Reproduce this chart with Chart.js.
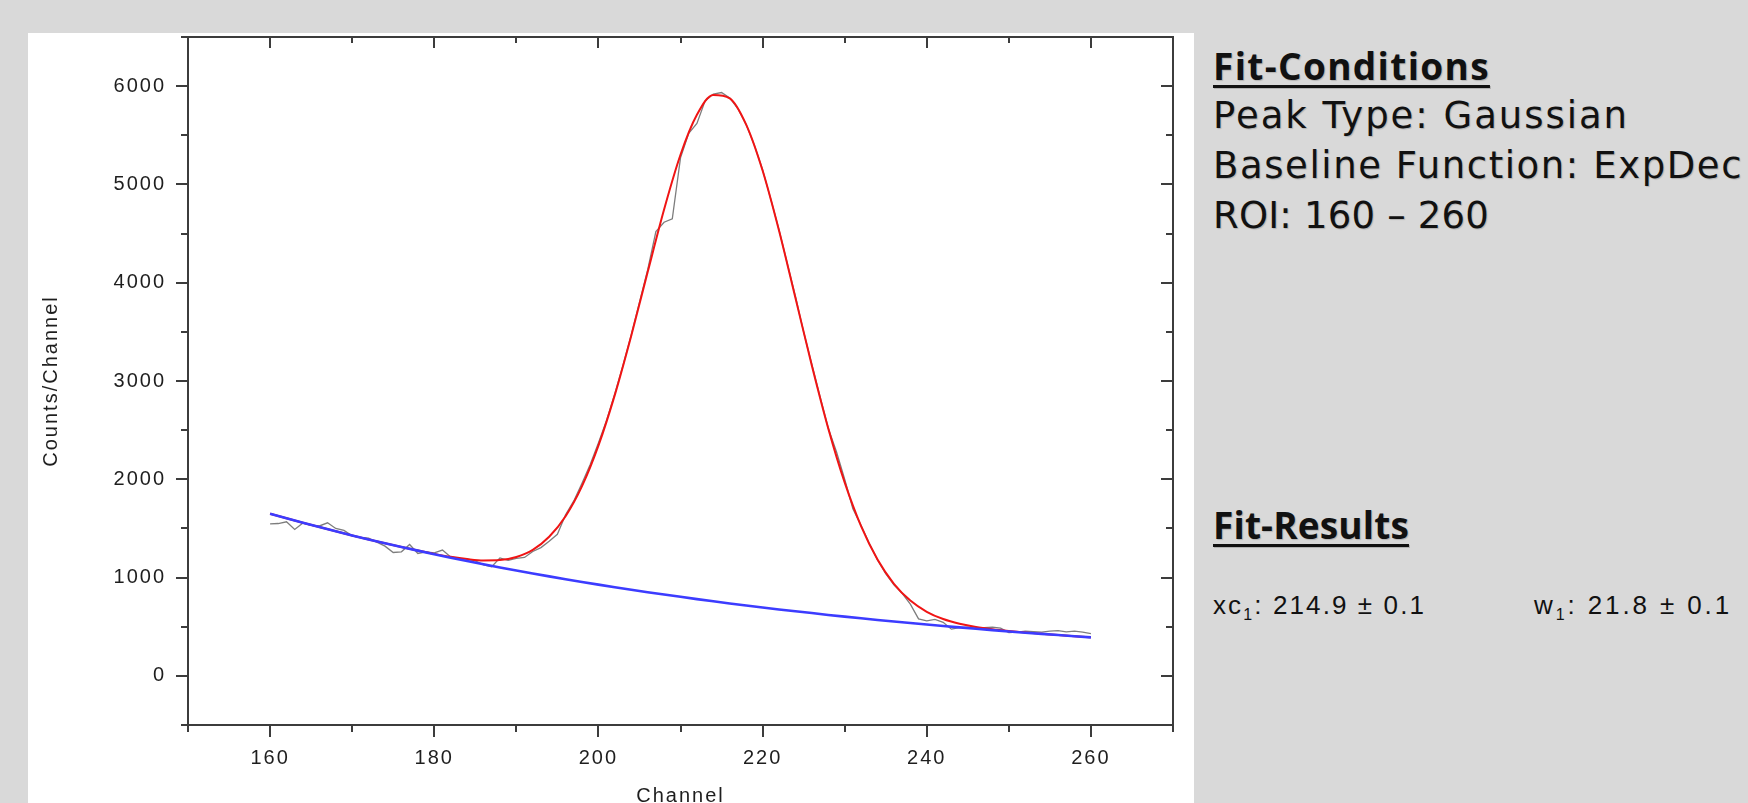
<!DOCTYPE html>
<html>
<head>
<meta charset="utf-8">
<script src="https://cdn.jsdelivr.net/npm/chart.js@4.4.1/dist/chart.umd.min.js"></script>
<style>
  html, body { margin: 0; width: 1748px; height: 803px; overflow: hidden; background: #d9d9d9; }
  #panel { position: absolute; left: 28px; top: 33px; width: 1166px; height: 800px; background: #fff; }
  .notes { position: absolute; left: 1213px; color: #111; white-space: nowrap;
           text-shadow: 1px 1px 1px rgba(0,0,0,0.18); }
  .notes span { display: inline-block; }
  .notes div { font-family: "DejaVu Sans", sans-serif; font-size: 37px; line-height: 50px; }
  .notes .head { font-family: "Open Sans", sans-serif; font-weight: bold; font-size: 37px; }
  .notes .head span { text-decoration: underline; text-decoration-thickness: 3px; text-underline-offset: 5px; }
  .res { position: absolute; top: 590px; font-family: "Liberation Sans", Arial, sans-serif;
         font-size: 26px; line-height: 30px; color: #111; white-space: nowrap; }
  .res sub { font-size: 16px; vertical-align: -6px; line-height: 0; }
</style>
</head>
<body>
<div id="panel"><canvas id="fitChart" width="1166" height="800"></canvas></div>

<div class="notes" style="top:41px">
  <div class="head"><span data-w="277">Fit-Conditions</span></div>
  <div><span data-w="416">Peak Type: Gaussian</span></div>
  <div><span data-w="530">Baseline Function: ExpDec</span></div>
  <div><span data-w="276">ROI: 160 – 260</span></div>
</div>
<div class="notes" style="top:500px">
  <div class="head"><span data-w="196">Fit-Results</span></div>
</div>
<div class="res" style="left:1213px"><span data-w="213">xc<sub>1</sub>: 214.9 ± 0.1</span></div>
<div class="res" style="left:1534px"><span data-w="198">w<sub>1</sub>: 21.8 ± 0.1</span></div>

<script>
// measured spectrum, one value per channel
const channels = [160,161,162,163,164,165,166,167,168,169,170,171,172,173,174,175,176,177,178,179,
  180,181,182,183,184,185,186,187,188,189,190,191,192,193,194,195,196,197,198,199,
  200,201,202,203,204,205,206,207,208,209,210,211,212,213,214,215,216,217,218,219,
  220,221,222,223,224,225,226,227,228,229,230,231,232,233,234,235,236,237,238,239,
  240,241,242,243,244,245,246,247,248,249,250,251,252,253,254,255,256,257,258,259,260];
const counts = [1547,1550,1568,1490,1555,1530,1525,1557,1500,1480,1425,1410,1400,1360,1320,1255,1262,1337,1245,1262,
  1252,1280,1210,1195,1190,1170,1130,1110,1200,1175,1195,1205,1265,1305,1370,1440,1640,1780,1960,2150,
  2370,2600,2870,3160,3470,3800,4130,4520,4615,4650,5270,5520,5620,5850,5920,5935,5880,5770,5610,5400,
  5150,4850,4540,4200,3860,3500,3170,2840,2520,2280,2000,1700,1530,1350,1180,1040,925,840,730,580,
  560,575,545,475,490,495,485,490,495,485,440,445,455,450,445,455,460,448,455,445,430];

// fitted curves, every second channel
const fitChannels = [160,162,164,166,168,170,172,174,176,178,180,182,184,186,188,190,192,194,196,198,
  200,202,204,206,208,210,212,214,216,218,220,222,224,226,228,230,232,234,236,238,
  240,242,244,246,248,250,252,254,256,258,260];
const fitCounts = [1650,1603,1558,1514,1471,1429,1388,1349,1311,1275,1241,1211,1188,1174,1178,1210,1282,1415,1624,1930,
  2342,2859,3461,4108,4745,5302,5708,5910,5876,5608,5141,4531,3846,3158,2518,1968,1523,1183,937,766,
  652,578,530,497,474,456,441,428,415,403,392];
const baseCounts = [1650,1603,1558,1514,1471,1429,1388,1349,1311,1274,1237,1202,1168,1135,1103,1072,1041,1012,983,955,
  928,902,876,851,827,804,781,759,737,716,696,676,657,639,620,603,586,569,553,537,
  522,507,493,479,465,452,439,427,415,403,392];

const xMajor = [160, 180, 200, 220, 240, 260];
const xMinor = [150, 170, 190, 210, 230, 250, 270];
const yMajor = [0, 1000, 2000, 3000, 4000, 5000, 6000];
const yMinor = [-500, 500, 1500, 2500, 3500, 4500, 5500, 6500];

// stretch the side notes to the widths they have in the slide
document.querySelectorAll('[data-w]').forEach(el => {
    const n = el.textContent.length;
    const extra = (Number(el.dataset.w) - el.getBoundingClientRect().width) / n;
    el.style.letterSpacing = extra.toFixed(2) + 'px';
});

const toPoints = (xs, ys) => xs.map((x, i) => ({ x: x, y: ys[i] }));

// frame with Origin-style ticks: out on left/bottom, in on top/right
const frameTicks = {
    id: 'frameTicks',
    beforeDraw(chart) {
        chart.ctx.letterSpacing = '2px';
    },
    afterDatasetsDraw(chart) {
        const { ctx, chartArea: a, scales: { x, y } } = chart;
        ctx.save();
        ctx.strokeStyle = '#3c3c3c';
        ctx.lineWidth = 2;
        ctx.strokeRect(a.left, a.top, a.right - a.left, a.bottom - a.top);
        ctx.beginPath();
        const xTick = (v, len) => {
            const px = Math.round(x.getPixelForValue(v));
            ctx.moveTo(px, a.bottom); ctx.lineTo(px, a.bottom + len);
            ctx.moveTo(px, a.top); ctx.lineTo(px, a.top + len - 1);
        };
        const yTick = (v, len) => {
            const py = Math.round(y.getPixelForValue(v));
            ctx.moveTo(a.left, py); ctx.lineTo(a.left - len, py);
            ctx.moveTo(a.right, py); ctx.lineTo(a.right - len, py);
        };
        xMajor.forEach(v => xTick(v, 12));
        xMinor.forEach(v => xTick(v, 7));
        yMajor.forEach(v => yTick(v, 12));
        yMinor.forEach(v => yTick(v, 7));
        ctx.stroke();
        ctx.restore();
    }
};

const tickFont = { family: 'Liberation Sans', size: 20 };

const ctx = document.getElementById('fitChart').getContext('2d');
const chart = new Chart(ctx, {
    type: 'line',
    data: {
        datasets: [{
            label: 'Baseline',
            data: toPoints(fitChannels, baseCounts),
            borderColor: 'rgb(60, 60, 255)',
            borderWidth: 2.6,
            pointRadius: 0,
        }, {
            label: 'Fit',
            data: toPoints(fitChannels, fitCounts),
            borderColor: 'rgb(240, 20, 20)',
            borderWidth: 2,
            pointRadius: 0,
            cubicInterpolationMode: 'monotone',
        }, {
            label: 'Counts',
            data: toPoints(channels, counts),
            borderColor: 'rgb(125, 125, 125)',
            borderWidth: 1.3,
            pointRadius: 0,
        }],
    },
    options: {
        responsive: false,
        animation: false,
        layout: { padding: { left: 0, right: 21, top: 4, bottom: 0 } },
        plugins: { legend: { display: false }, tooltip: { enabled: false } },
        scales: {
            x: {
                type: 'linear',
                min: 150,
                max: 270,
                afterBuildTicks: (s) => { s.ticks = xMajor.map(v => ({ value: v })); },
                afterFit: (s) => { s.height = 108; s.paddingLeft = 0; s.paddingRight = 0; },
                grid: { display: false, drawTicks: false },
                border: { display: false },
                ticks: { padding: 21, color: '#1e1e1e', font: tickFont, callback: (v) => String(v) },
                title: {
                    display: true,
                    text: 'Channel',
                    color: '#1e1e1e',
                    padding: { top: 0, bottom: 25 },
                    font: tickFont,
                },
            },
            y: {
                min: -500,
                max: 6500,
                afterBuildTicks: (s) => { s.ticks = yMajor.map(v => ({ value: v })); },
                afterFit: (s) => { s.width = 160; s.paddingTop = 0; s.paddingBottom = 0; },
                grid: { display: false, drawTicks: false },
                border: { display: false },
                ticks: { padding: 22, color: '#1e1e1e', font: tickFont, callback: (v) => String(v) },
                title: {
                    display: true,
                    text: 'Counts/Channel',
                    color: '#1e1e1e',
                    padding: { top: 11, bottom: 0 },
                    font: tickFont,
                },
            },
        },
    },
    plugins: [frameTicks],
});
</script>
</body>
</html>
